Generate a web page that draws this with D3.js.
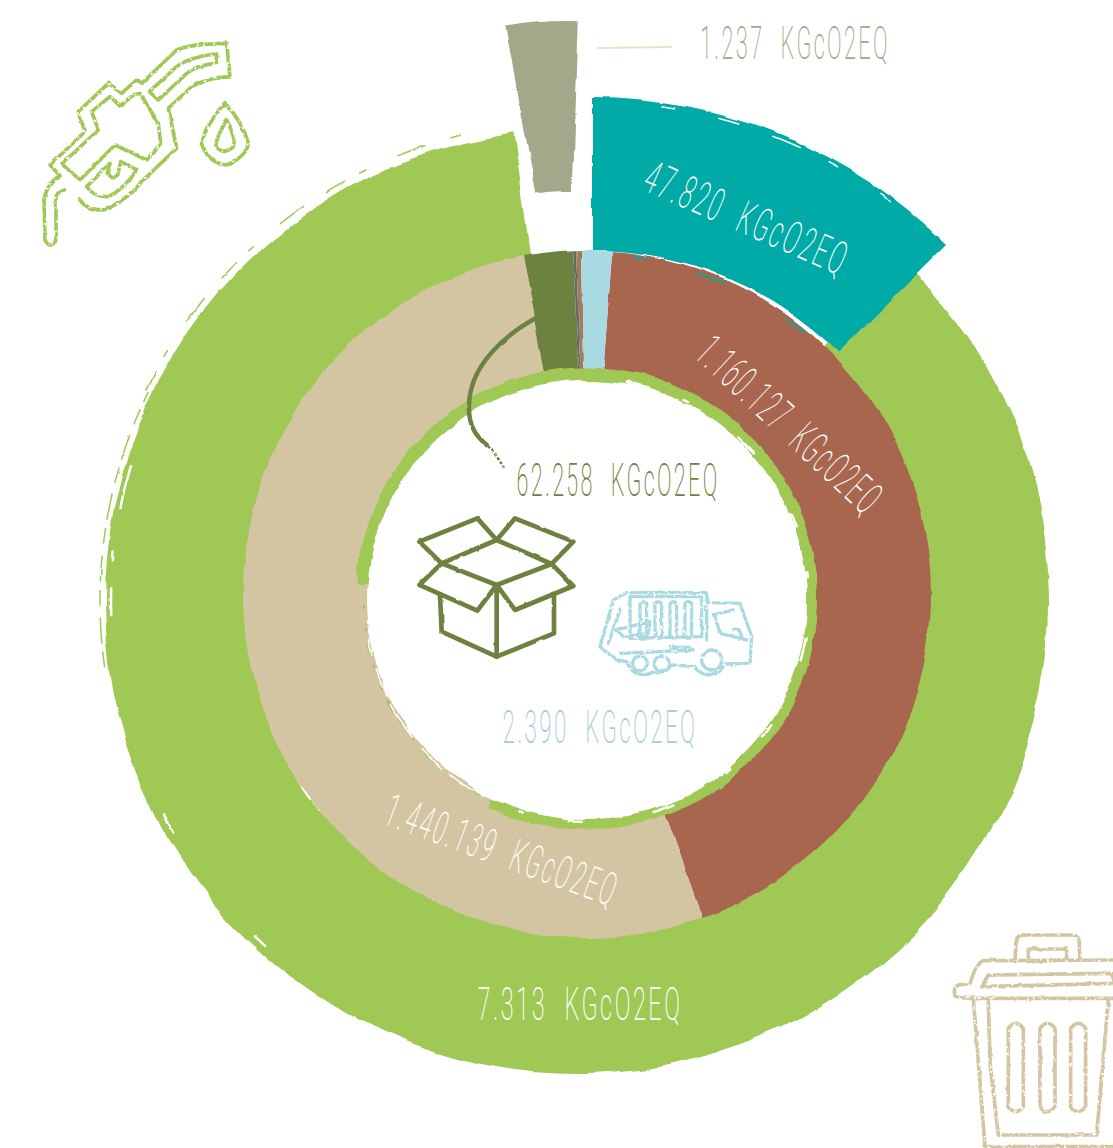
<!DOCTYPE html>
<html>
<head>
<meta charset="utf-8">
<script src="https://cdn.jsdelivr.net/npm/d3@7"></script>
<style>
  html, body { margin: 0; background: #fff; }
  svg { display: block; }
  text { font-family: Roboto, sans-serif; font-weight: 200; }
  .icon { fill: none; stroke-linejoin: round; stroke-linecap: round; }
</style>
</head>
<body>
<svg width="1113" height="1148"></svg>
<script>
// inner ring, angles in degrees as drawn in the picture (not to scale with the kg)
const innerNames = ['transport', 'waste', 'packaging', 'other1', 'other2', 'truck'];
const innerSpan = [156.2, 188.9, 8.4, 0.5, 0.8, 5.2];

// outer ring pieces, degrees
const fuelSpan = [44, 352.4];
const tealSpan = [0, 45];
const sageSpan = [-10.4, 2];
const ringSpan = [274, 565];

const labelTexts = ['1.237 KGcO2EQ', '47.820 KGcO2EQ', '1.160.127 KGcO2EQ', '62.258 KGcO2EQ',
  '2.390 KGcO2EQ', '1.440.139 KGcO2EQ', '7.313 KGcO2EQ'];

const GREEN = '#a0c854', TAN = '#d3c5a1', BROWN = '#a86650', TEAL = '#00aaa6',
  SAGE = '#a3a88a', DARK = '#6e8240', BLUE = '#a9d9e1';
const innerColors = [BROWN, TAN, DARK, '#66686a', '#a07b58', BLUE];

var svg = d3.select('svg');
var defs = svg.append('defs');

// hand painted edge
function rough(id, freq, scale, seed, grain) {
  var f = defs.append('filter').attr('id', id)
    .attr('filterUnits', 'userSpaceOnUse')
    .attr('x', 0).attr('y', 0).attr('width', 1113).attr('height', 1148);
  f.append('feTurbulence').attr('type', 'fractalNoise')
    .attr('baseFrequency', freq).attr('numOctaves', 4).attr('seed', seed).attr('result', 'n');
  f.append('feDisplacementMap').attr('in', 'SourceGraphic').attr('in2', 'n')
    .attr('scale', scale).attr('xChannelSelector', 'R').attr('yChannelSelector', 'G')
    .attr('result', 'd');
  if (grain) {
    // dry brush, knocks small holes out of the stroke
    f.append('feTurbulence').attr('type', 'fractalNoise')
      .attr('baseFrequency', 0.3).attr('numOctaves', 2).attr('seed', seed + 1).attr('result', 'g');
    f.append('feColorMatrix').attr('in', 'g').attr('type', 'matrix')
      .attr('values', '0 0 0 0 0  0 0 0 0 0  0 0 0 0 0  ' + grain + ' 0 0 0 ' + (-grain * 0.26))
      .attr('result', 'a');
    f.append('feComposite').attr('in', 'd').attr('in2', 'a').attr('operator', 'in');
  }
}
rough('edgeBig', 0.012, 12, 3);
rough('edgeMid', 0.018, 7, 8);
rough('edgeRing', 0.03, 7, 5);
rough('edgeIcon', 0.08, 2.5, 11, 7);
rough('edgeBox', 0.08, 2, 14);
rough('edgeWisp', 0.05, 3, 21);

var deg = d3.scaleLinear().domain([0, 360]).range([0, 2 * Math.PI]);

function layer(filter) {
  return svg.append('g').attr('filter', 'url(#' + filter + ')');
}

function sector(cx, cy, r0, r1, span, color, filter) {
  return layer(filter).append('path')
    .attr('transform', 'translate(' + cx + ',' + cy + ')')
    .attr('d', d3.arc().innerRadius(r0).outerRadius(r1)
      .startAngle(deg(span[0])).endAngle(deg(span[1]))())
    .attr('fill', color);
}

// brush marks that run along a ring
function wisp(cx, cy, r, span, color, width, dash) {
  var line = d3.lineRadial().curve(d3.curveCardinal)
    .angle(function(a) { return deg(a); })
    .radius(r);
  layer('edgeWisp').append('path')
    .attr('transform', 'translate(' + cx + ',' + cy + ')')
    .attr('d', line(d3.range(span[0], span[1], 2)))
    .attr('fill', 'none').attr('stroke', color)
    .attr('stroke-width', width).attr('stroke-dasharray', dash);
}

// outer ring
sector(577, 601, 330, 473, fuelSpan, GREEN, 'edgeBig');
wisp(577, 601, 480, [296, 348], GREEN, 1.5, '22 16 8 34 30 26');
wisp(577, 601, 477, [262, 298], GREEN, 1.5, '16 8 26 12');
wisp(577, 601, 466, [268, 292], '#fff', 2.5, '30 26 10 44 44 30');
wisp(577, 601, 465, [222, 262], '#fff', 2.5, '16 130 22 170');

sector(592, 600, 350, 502, tealSpan, TEAL, 'edgeMid');
wisp(592, 600, 498, [8, 42], '#fff', 1.5, '14 44 22 36 30 30 12 50');
sector(566, 356, 165, 336, sageSpan, SAGE, 'edgeMid');

// inner ring
var pie = d3.pie().sort(null).startAngle(deg(4.2)).endAngle(deg(364.2));
var innerArc = d3.arc().innerRadius(212).outerRadius(344);
layer('edgeMid').append('g').attr('transform', 'translate(587,594)')
  .selectAll('path')
  .data(pie(innerSpan))
  .enter()
  .append('path')
  .attr('class', function(d, i) { return innerNames[i]; })
  .attr('d', innerArc)
  .attr('fill', function(d, i) { return innerColors[i]; });
wisp(587, 594, 340, [8, 42], TEAL, 1.5, '14 50 30 70 40 60');

// thin ring and white middle
sector(587, 598.5, 205, 231, ringSpan, GREEN, 'edgeRing');
layer('edgeRing').append('circle').attr('cx', 587).attr('cy', 600).attr('r', 220).attr('fill', '#fff');
wisp(587, 600, 223, [205, 272], GREEN, 2, '4 10 12 14 3 18');
wisp(587, 600, 222, [208, 262], '#fff', 1.5, '40 8 30 14');
wisp(587, 600, 222, [10, 200], '#fff', 2.5, '16 44 7 60 24 70');

// leader lines
svg.append('path').attr('d', 'M597,48 L672,47')
  .attr('stroke', '#e2e7c4').attr('stroke-width', 2).attr('fill', 'none');
layer('edgeBox').append('path')
  .attr('d', 'M536,318 C505,335 470,365 469,405 C468,428 478,438 488,446')
  .attr('stroke', DARK).attr('stroke-width', 4.5).attr('fill', 'none');
layer('edgeIcon').append('path').attr('d', 'M488,446 C494,452 498,458 504,468')
  .attr('stroke', DARK).attr('stroke-width', 2.5).attr('stroke-dasharray', '3 2').attr('fill', 'none');

// labels
const labelPlace = [
  { x: 795, y: 43, len: 190, rot: 0, color: SAGE },
  { x: 747, y: 218, len: 218, rot: 23.5, color: '#fff' },
  { x: 790, y: 425, len: 236, rot: 43, color: '#fff' },
  { x: 618, y: 480, len: 203, rot: 0, color: DARK },
  { x: 600, y: 727, len: 195, rot: 0, color: '#a6cdd5' },
  { x: 502, y: 850, len: 245, rot: 20, color: '#fff' },
  { x: 580, y: 1004, len: 205, rot: 0, color: '#fff' }
];
svg.selectAll('text.lab')
  .data(labelTexts)
  .enter()
  .append('text')
  .attr('class', 'lab')
  .attr('text-anchor', 'middle')
  .attr('dominant-baseline', 'central')
  .attr('font-size', 46)
  .attr('letter-spacing', 5)
  .attr('word-spacing', 18)
  .attr('textLength', function(d, i) { return labelPlace[i].len; })
  .attr('lengthAdjust', 'spacingAndGlyphs')
  .attr('fill', function(d, i) { return labelPlace[i].color; })
  .attr('transform', function(d, i) {
    var p = labelPlace[i];
    return 'translate(' + p.x + ',' + p.y + ') rotate(' + p.rot + ')';
  })
  .text(function(d) { return d; });

// icons, drawn in the coordinates of a 3x crop
function icon(x, y, color, width, filter, paths) {
  var g = layer(filter).append('g').attr('class', 'icon')
    .attr('transform', 'translate(' + x + ',' + y + ') scale(0.3333)')
    .attr('stroke', color).attr('stroke-width', width);
  paths.forEach(function(d) { g.append('path').attr('d', d); });
  return g;
}

// fuel nozzle
icon(30, 30, GREEN, 11, 'edgeIcon', [
  'M42,510 L45,630 Q60,660 78,630 L78,500 Q82,485 103,480',
  'M42,510 Q50,460 90,437 L60,405 L165,305 L145,245 L235,160 L275,190 L320,150 L335,160 L440,60 Q480,42 590,40 L600,140 Q520,145 480,175 L415,235 L440,355 L340,450 Q280,520 220,540 Q170,540 150,510',
  'M95,402 L205,300 L185,245 L240,200 L270,228 L310,195 L330,190 L385,280 L392,340 L350,390 L255,345 L150,450 Z',
  'M358,185 L440,110 Q480,80 560,72 L558,100 Q500,105 470,130 L385,210 Z',
  'M170,470 L240,400 L235,430 Q245,450 262,440 L272,395 L320,420 Q280,480 235,500 Q190,500 170,470',
  'M585,218 Q510,310 518,350 Q540,400 590,405 Q650,380 655,340 Q640,280 585,218 Z',
  'M590,270 Q555,330 558,350 Q580,375 605,355 Q625,340 590,270 Z'
]);

// box
icon(400, 440, DARK, 14, 'edgeBox', [
  'M58,305 L232,235 L290,300 L125,370 Z',
  'M345,235 L520,305 L455,372 L290,300 Z',
  'M125,370 L58,435 L232,512 L290,435 Z',
  'M455,372 L520,438 L345,510 L290,435 Z',
  'M120,465 L125,575 L290,650 L462,580 L462,465',
  'M290,435 L290,650'
]);

// truck
var truck = icon(400, 440, BLUE, 10, 'edgeIcon', [
  'M600,620 L640,480 L680,458 L918,458 L925,488 L1020,490 L1055,590 L1050,670 L975,672 Q960,700 925,705 Q895,700 885,680 L815,675 Q790,705 760,695 Q740,710 710,700 Q690,690 680,665 L650,660 Z',
  'M690,470 L905,470 L905,590 L690,595 Z',
  'M720,490 Q730,480 740,490 L740,590 L720,590 Z',
  'M765,490 Q775,480 785,490 L785,590 Q775,600 765,590 Z',
  'M810,490 Q820,480 830,490 L830,590 Q820,600 810,590 Z',
  'M855,490 Q865,480 875,490 L875,590 Q865,600 855,590 Z',
  'M940,525 L1000,510 M945,530 L960,580 L1040,600 M1000,570 Q1015,560 1025,590',
  'M650,570 L750,545 L745,580 L670,590 Z',
  'M660,640 L880,630 M810,622 L870,622 L860,635',
  'M625,610 L660,510 M920,500 L920,600'
]);
truck.selectAll('.tyre').data([[935, 660, 30], [720, 670, 22], [785, 670, 22]]).enter()
  .append('circle').attr('class', 'tyre')
  .attr('cx', function(d) { return d[0]; })
  .attr('cy', function(d) { return d[1]; })
  .attr('r', function(d) { return d[2]; });

// bin
icon(940, 920, TAN, 11, 'edgeIcon', [
  'M225,125 L228,60 Q235,45 250,45 L400,45 Q420,50 418,75 L420,120',
  'M265,87 L380,87 L380,120 L265,125 Z',
  'M525,120 L130,122 Q110,130 90,190 L55,195 Q38,205 45,225 Q50,235 100,235 L525,235',
  'M145,165 L515,160 L525,190 L125,200 Z',
  'M100,235 L135,680 L525,680',
  'M145,245 L150,430 L175,645 L470,645 L505,240',
  'M205,325 Q228,295 250,325 L250,560 Q228,590 205,560 Z',
  'M300,325 Q322,295 345,325 L345,560 Q322,590 300,560 Z',
  'M392,325 Q415,295 437,325 L437,560 Q415,590 392,560 Z'
]);
</script>
</body>
</html>
